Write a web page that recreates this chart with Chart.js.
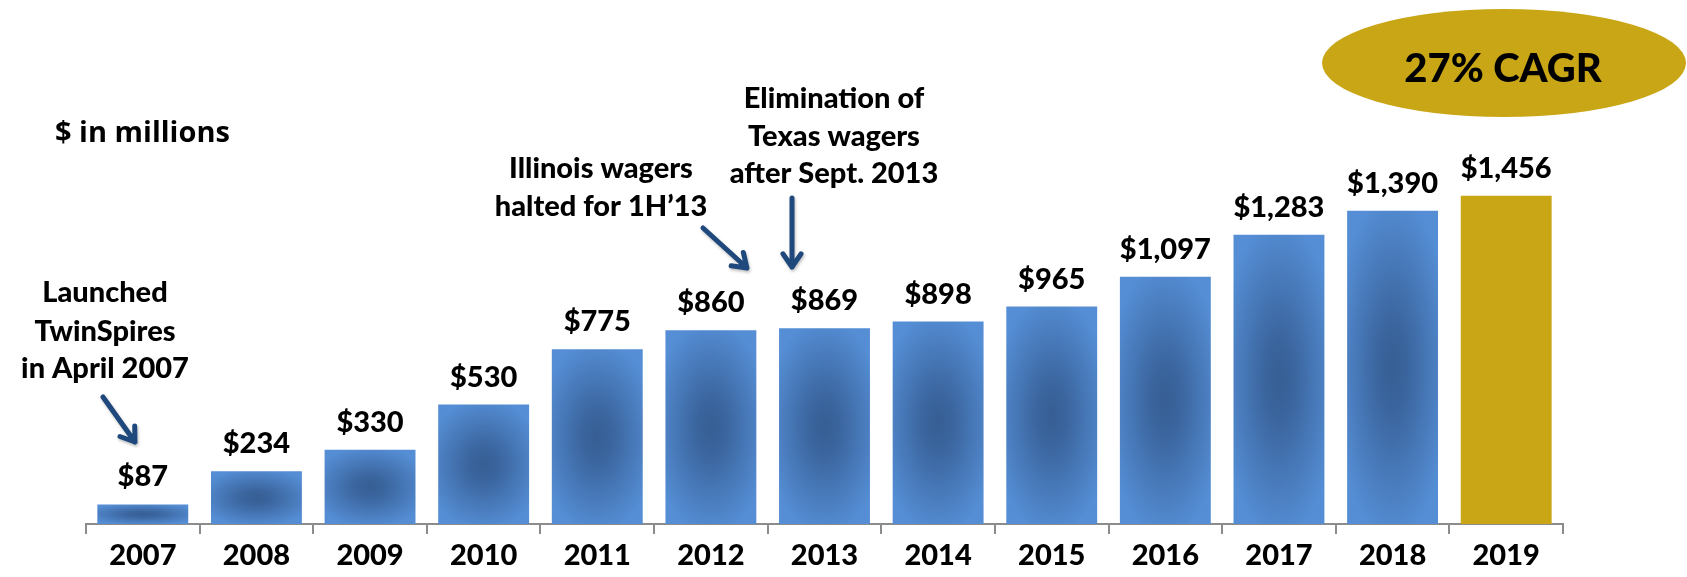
<!DOCTYPE html>
<html>
<head>
<meta charset="utf-8">
<script src="https://cdn.jsdelivr.net/npm/chart.js@4"></script>
<style>
  html, body { margin: 0; padding: 0; background: #fff; }
  #wrap { width: 1687px; height: 577px; }
</style>
</head>
<body>
<div id="wrap"><canvas id="chart" width="1687" height="577"></canvas></div>
<script>
const years = ['2007', '2008', '2009', '2010', '2011', '2012', '2013', '2014', '2015', '2016', '2017', '2018', '2019'];
const handle = [87, 234, 330, 530, 775, 860, 869, 898, 965, 1097, 1283, 1390, 1456];

const BLUE_LIGHT = 'rgb(85,142,213)';
const BLUE_DARK = 'rgb(55,95,149)';
const GOLD = 'rgb(200,166,21)';
const NAVY = 'rgb(31,73,125)';
const FONT = 'Lato, "Open Sans", sans-serif';
const WEIGHT = '900';

const patternCache = {};
function barGradient(ctx, left, top, w, h) {
  const key = [left, top, w, h].map(v => Math.round(v)).join('_');
  if (patternCache[key]) return patternCache[key];
  const cw = Math.max(1, Math.ceil(w)), ch = Math.max(1, Math.ceil(h));
  const off = document.createElement('canvas');
  off.width = cw; off.height = ch;
  const g = off.getContext('2d');
  g.fillStyle = BLUE_LIGHT;
  g.fillRect(0, 0, cw, ch);
  g.save();
  g.translate(w / 2, h / 2);
  g.scale(w / 2 * 1.3, h / 2 * 1.1);
  const rg = g.createRadialGradient(0, 0, 0, 0, 0, 1);
  rg.addColorStop(0, BLUE_DARK);
  rg.addColorStop(0.25, 'rgb(59,101,158)');
  rg.addColorStop(1, BLUE_LIGHT);
  g.fillStyle = rg;
  g.fillRect(-2, -2, 4, 4);
  g.restore();
  const pat = ctx.createPattern(off, 'repeat');
  pat.setTransform(new DOMMatrix().translate(left, top));
  patternCache[key] = pat;
  return pat;
}

function drawArrow(ctx, x1, y1, x2, y2) {
  const ang = Math.atan2(y2 - y1, x2 - x1);
  const head = 16;
  ctx.save();
  ctx.strokeStyle = NAVY;
  ctx.lineWidth = 5;
  ctx.lineCap = 'round';
  ctx.lineJoin = 'round';
  ctx.shadowColor = 'rgba(0,0,0,0.25)';
  ctx.shadowBlur = 3;
  ctx.shadowOffsetX = 1;
  ctx.shadowOffsetY = 2;
  ctx.beginPath();
  ctx.moveTo(x1, y1);
  ctx.lineTo(x2, y2);
  ctx.moveTo(x2 - head * Math.cos(ang - 0.6), y2 - head * Math.sin(ang - 0.6));
  ctx.lineTo(x2, y2);
  ctx.lineTo(x2 - head * Math.cos(ang + 0.6), y2 - head * Math.sin(ang + 0.6));
  ctx.stroke();
  ctx.restore();
}

const valueLabels = {
  id: 'valueLabels',
  afterDatasetsDraw(chart) {
    const { ctx } = chart;
    const meta = chart.getDatasetMeta(0);
    ctx.save();
    ctx.fillStyle = '#000';
    ctx.font = WEIGHT + ' 29px ' + FONT;
    ctx.textAlign = 'center';
    ctx.textBaseline = 'alphabetic';
    meta.data.forEach((bar, i) => {
      ctx.fillText('$' + handle[i].toLocaleString('en-US'), bar.x, bar.y - 18);
    });
    ctx.restore();
  }
};

const annotations = {
  id: 'annotations',
  afterDraw(chart) {
    const { ctx } = chart;
    ctx.save();
    ctx.fillStyle = '#000';
    ctx.textAlign = 'center';
    ctx.textBaseline = 'alphabetic';
    ctx.font = WEIGHT + ' 29px ' + FONT;
    [['Launched', 302], ['TwinSpires', 341], ['in April 2007', 378]].forEach(([t, y]) => ctx.fillText(t, 105, y));
    [['Illinois wagers', 178], ['halted for 1H\u201913', 216]].forEach(([t, y]) => ctx.fillText(t, 601, y));
    [['Elimination of', 108], ['Texas wagers', 146], ['after Sept. 2013', 183]].forEach(([t, y]) => ctx.fillText(t, 834, y));

    ctx.textAlign = 'left';
    ctx.font = 'bold 29px "Open Sans", sans-serif';
    ctx.fillText('$ in millions', 55, 142);

    // CAGR badge
    ctx.fillStyle = GOLD;
    ctx.beginPath();
    ctx.ellipse(1504, 63, 182, 54, 0, 0, Math.PI * 2);
    ctx.fill();
    ctx.fillStyle = '#000';
    ctx.textAlign = 'center';
    ctx.font = WEIGHT + ' 40px ' + FONT;
    ctx.fillText('27% CAGR', 1503, 82);
    ctx.restore();

    drawArrow(ctx, 103, 397, 135, 442);
    drawArrow(ctx, 703, 228, 747, 268);
    drawArrow(ctx, 792, 198, 792, 267);
  }
};

new Chart(document.getElementById('chart'), {
  type: 'bar',
  data: {
    labels: years,
    datasets: [{
      data: handle,
      backgroundColor(c) {
        const { chart, dataIndex, raw } = c;
        if (dataIndex === years.length - 1) return GOLD;
        if (!chart.chartArea || !chart.scales.x) return BLUE_LIGHT;
        const xs = chart.scales.x, ys = chart.scales.y;
        const w = (xs.width / years.length) * 0.8;
        const left = xs.getPixelForValue(dataIndex) - w / 2;
        const top = ys.getPixelForValue(raw);
        const h = ys.getPixelForValue(0) - top;
        return barGradient(chart.ctx, left, top, w, h);
      },
      borderWidth: 0,
      categoryPercentage: 0.8,
      barPercentage: 1.0,
    }]
  },
  plugins: [valueLabels, annotations],
  options: {
    responsive: false,
    animation: false,
    events: [],
    layout: { padding: { left: 86, right: 124, top: 0, bottom: 0 } },
    scales: {
      x: {
        grid: { offset: true, drawOnChartArea: false, drawTicks: true, tickLength: 10, color: '#8c8c8c', lineWidth: 2 },
        border: { color: '#8c8c8c', width: 2 },
        ticks: { color: '#000', font: { family: FONT, size: 29, weight: WEIGHT }, padding: 4, maxRotation: 0 },
        afterFit(scale) { scale.height = 53; }
      },
      y: { display: false, min: 0, max: 2325 }
    },
    plugins: { legend: { display: false }, tooltip: { enabled: false } }
  }
});
</script>
</body>
</html>
